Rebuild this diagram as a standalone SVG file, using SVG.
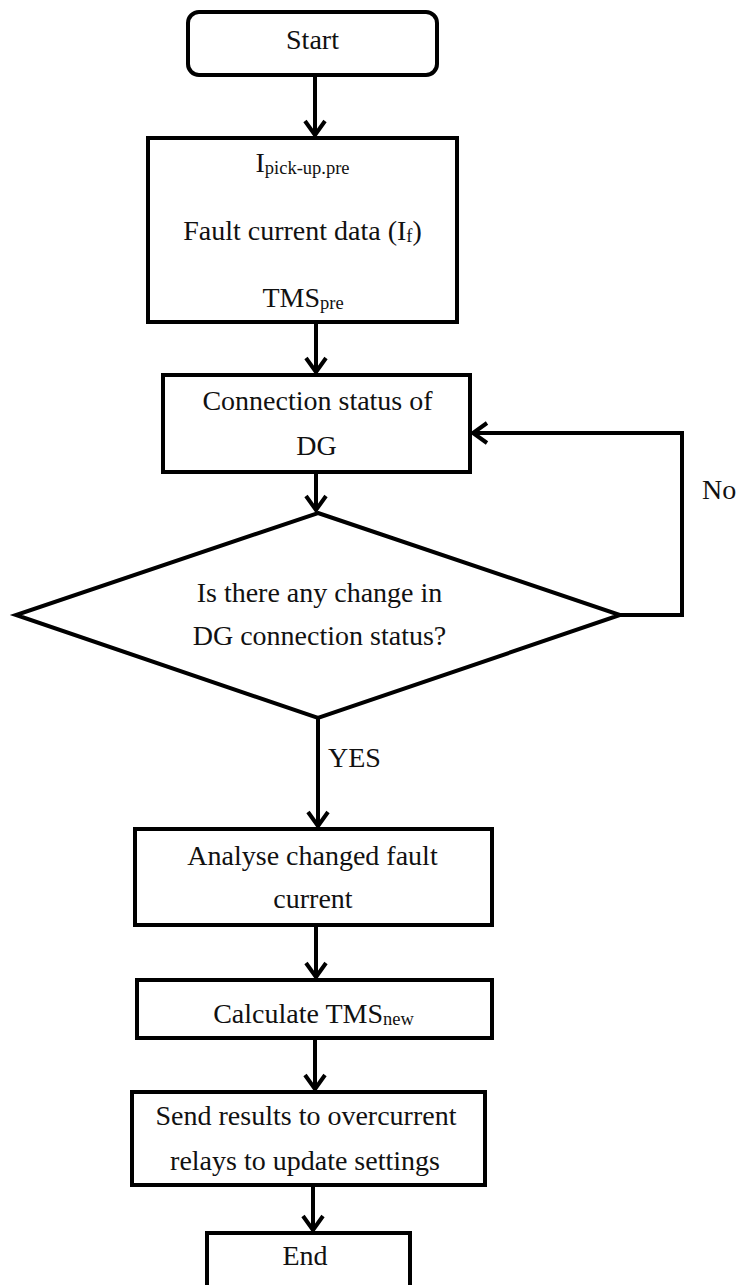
<svg xmlns="http://www.w3.org/2000/svg" width="737" height="1285" viewBox="0 0 737 1285">
<style>
.box{fill:#fff;stroke:#000;stroke-width:4}
.t{font-family:"Liberation Serif","Times New Roman",serif;font-size:28px;fill:#111;text-anchor:middle}
.l{font-family:"Liberation Serif","Times New Roman",serif;font-size:28px;fill:#111}
.sub{font-size:18.5px}
.c{fill:none;stroke:#000;stroke-width:4}
</style>
<defs>
<marker id="arr" viewBox="-20 -14 24 28" refX="0" refY="0" markerWidth="24" markerHeight="28" markerUnits="userSpaceOnUse" orient="auto">
<path d="M-14,-10 L0,0 L-14,10" fill="none" stroke="#000" stroke-width="4"/>
</marker>
</defs>
<rect width="737" height="1285" fill="#fff"/>
<g id="connectors">
<line class="c" x1="315" y1="75" x2="315" y2="135" marker-end="url(#arr)"/>
<line class="c" x1="316" y1="322" x2="316" y2="372" marker-end="url(#arr)"/>
<line class="c" x1="316" y1="472" x2="316" y2="510" marker-end="url(#arr)"/>
<line class="c" x1="318" y1="718" x2="318" y2="826" marker-end="url(#arr)"/>
<line class="c" x1="316" y1="925" x2="316" y2="977" marker-end="url(#arr)"/>
<line class="c" x1="315" y1="1038" x2="315" y2="1089" marker-end="url(#arr)"/>
<line class="c" x1="313" y1="1185" x2="313" y2="1230" marker-end="url(#arr)"/>
<polyline class="c" points="620,615 682,615 682,433 473,433" marker-end="url(#arr)"/>
<text class="l" x="702" y="499">No</text>
<text class="l" x="328" y="767">YES</text>
</g>
<g id="start">
<rect class="box" x="188" y="12" width="249" height="63" rx="11"/>
<text class="t" x="312.5" y="49">Start</text>
</g>
<g id="inputs">
<rect class="box" x="148" y="138" width="309" height="184"/>
<text class="t" x="302.5" y="172">I<tspan class="sub" dy="2">pick-up.pre</tspan></text>
<text class="t" x="302.5" y="240">Fault current data (I<tspan class="sub" dy="2">f</tspan><tspan dy="-2">)</tspan></text>
<text class="t" x="303" y="307">TMS<tspan class="sub" dy="2">pre</tspan></text>
</g>
<g id="status">
<rect class="box" x="163" y="375" width="307" height="97"/>
<text class="t" x="317.5" y="410">Connection status of</text>
<text class="t" x="316.5" y="455">DG</text>
</g>
<g id="decision">
<polygon class="box" points="318,513 620,615 318,718 16,615"/>
<text class="t" x="319.5" y="602">Is there any change in</text>
<text class="t" x="319.5" y="645">DG connection status?</text>
</g>
<g id="analyse">
<rect class="box" x="135" y="829" width="357" height="96"/>
<text class="t" x="312.5" y="865">Analyse changed fault</text>
<text class="t" x="313" y="908">current</text>
</g>
<g id="calculate">
<rect class="box" x="137" y="980" width="355" height="58"/>
<text class="t" x="313.5" y="1023">Calculate TMS<tspan class="sub" dy="2">new</tspan></text>
</g>
<g id="send">
<rect class="box" x="132" y="1092" width="353" height="93"/>
<text class="t" x="306" y="1125">Send results to overcurrent</text>
<text class="t" x="305" y="1170">relays to update settings</text>
</g>
<g id="end">
<rect class="box" x="207" y="1233" width="203" height="60"/>
<text class="t" x="305" y="1265">End</text>
</g>
</svg>
